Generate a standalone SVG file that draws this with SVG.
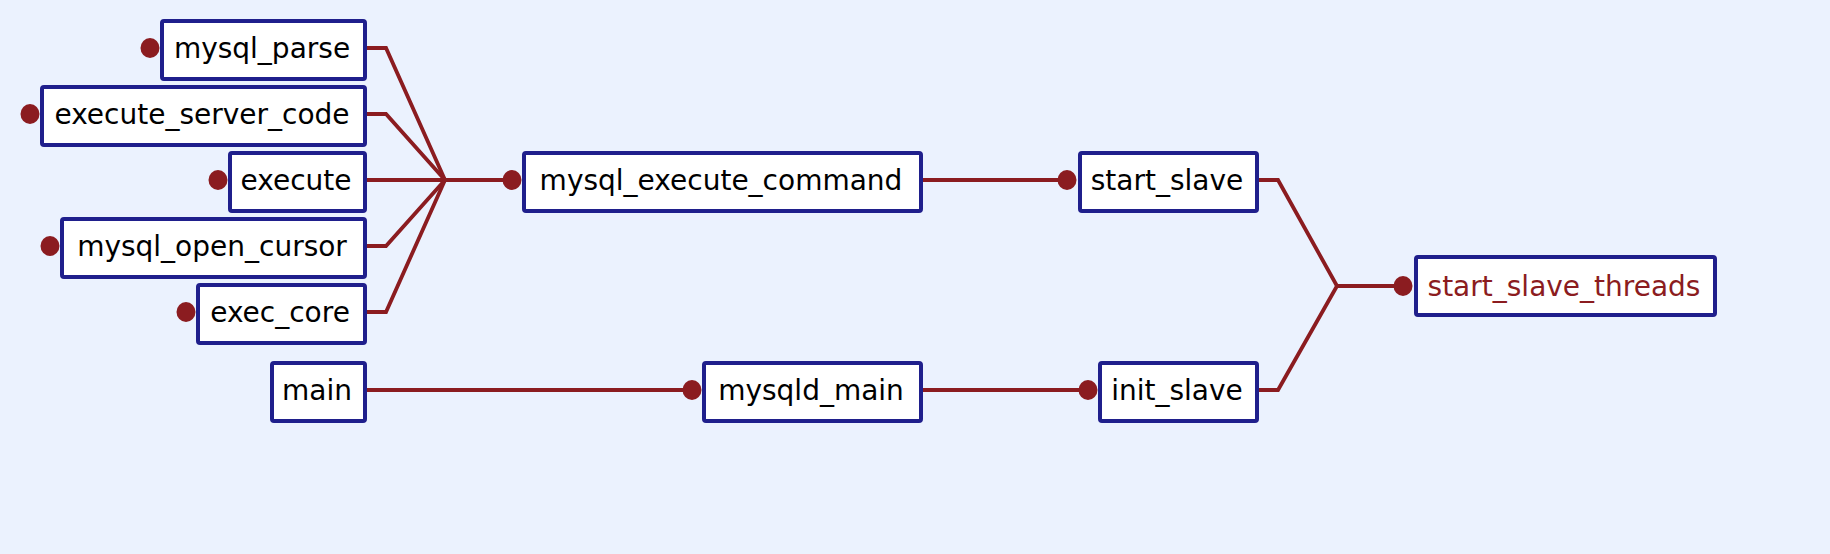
<svg xmlns="http://www.w3.org/2000/svg" width="1830" height="554" viewBox="0 0 1830 554">
<style>
.box{fill:#ffffff;stroke:#1f1f8c;stroke-width:4}
.lbl{font-family:"DejaVu Sans",sans-serif;font-size:28px;fill:#000000;text-anchor:middle}
.red{fill:#8b1c20}
.con{fill:none;stroke:#8b1c20;stroke-width:3.8;stroke-linejoin:miter}
.dot{fill:#8b1c20}
</style>
<rect x="0" y="0" width="1830" height="554" fill="#ebf2fe"/>
<g id="connectors">
<polyline class="con" points="365,48 386,48 445,180"/>
<polyline class="con" points="365,114 386,114 445,180"/>
<polyline class="con" points="365,180 445,180"/>
<polyline class="con" points="365,246 386,246 445,180"/>
<polyline class="con" points="365,312 386,312 445,180"/>
<polyline class="con" points="445,180 512,180"/>
<polyline class="con" points="921,180 1067,180"/>
<polyline class="con" points="365,390 692,390"/>
<polyline class="con" points="921,390 1088,390"/>
<polyline class="con" points="1257,180 1278,180 1337,286"/>
<polyline class="con" points="1257,390 1278,390 1337,286"/>
<polyline class="con" points="1337,286 1403,286"/>
</g>
<g id="mysql_parse">
<ellipse class="dot" cx="150" cy="48" rx="9.5" ry="10"/>
<rect class="box" x="162" y="21" width="203" height="58" rx="2"/>
<text class="lbl" x="262" y="58">mysql_parse</text>
</g>
<g id="execute_server_code">
<ellipse class="dot" cx="30" cy="114" rx="9.5" ry="10"/>
<rect class="box" x="42" y="87" width="323" height="58" rx="2"/>
<text class="lbl" x="202" y="124">execute_server_code</text>
</g>
<g id="execute">
<ellipse class="dot" cx="218" cy="180" rx="9.5" ry="10"/>
<rect class="box" x="230" y="153" width="135" height="58" rx="2"/>
<text class="lbl" x="296" y="190">execute</text>
</g>
<g id="mysql_open_cursor">
<ellipse class="dot" cx="50" cy="246" rx="9.5" ry="10"/>
<rect class="box" x="62" y="219" width="303" height="58" rx="2"/>
<text class="lbl" x="212" y="256">mysql_open_cursor</text>
</g>
<g id="exec_core">
<ellipse class="dot" cx="186" cy="312" rx="9.5" ry="10"/>
<rect class="box" x="198" y="285" width="167" height="58" rx="2"/>
<text class="lbl" x="280" y="322">exec_core</text>
</g>
<g id="main">
<rect class="box" x="272" y="363" width="93" height="58" rx="2"/>
<text class="lbl" x="317" y="400">main</text>
</g>
<g id="mysql_execute_command">
<ellipse class="dot" cx="512" cy="180" rx="9.5" ry="10"/>
<rect class="box" x="524" y="153" width="397" height="58" rx="2"/>
<text class="lbl" x="721" y="190">mysql_execute_command</text>
</g>
<g id="mysqld_main">
<ellipse class="dot" cx="692" cy="390" rx="9.5" ry="10"/>
<rect class="box" x="704" y="363" width="217" height="58" rx="2"/>
<text class="lbl" x="811" y="400">mysqld_main</text>
</g>
<g id="start_slave">
<ellipse class="dot" cx="1067" cy="180" rx="9.5" ry="10"/>
<rect class="box" x="1080" y="153" width="177" height="58" rx="2"/>
<text class="lbl" x="1167" y="190">start_slave</text>
</g>
<g id="init_slave">
<ellipse class="dot" cx="1088" cy="390" rx="9.5" ry="10"/>
<rect class="box" x="1100" y="363" width="157" height="58" rx="2"/>
<text class="lbl" x="1177" y="400">init_slave</text>
</g>
<g id="start_slave_threads">
<ellipse class="dot" cx="1403" cy="286" rx="9.5" ry="10"/>
<rect class="box" x="1416" y="257" width="299" height="58" rx="2"/>
<text class="lbl red" x="1564" y="296">start_slave_threads</text>
</g>
</svg>
